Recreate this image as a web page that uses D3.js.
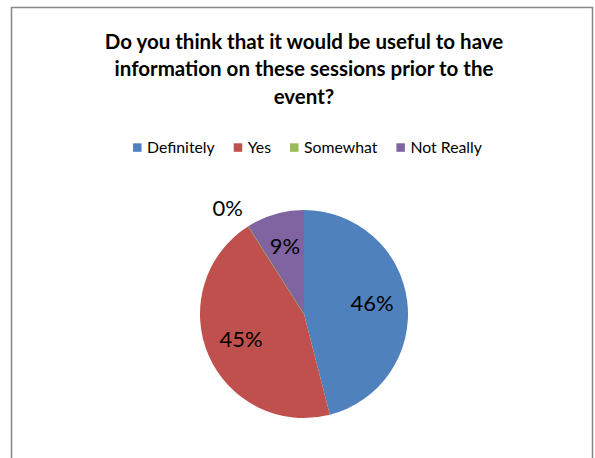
<!DOCTYPE html>
<html>
<head>
<meta charset="utf-8">
<script src="https://cdn.jsdelivr.net/npm/d3@7"></script>
<style>
  html, body { margin: 0; padding: 0; background: #fff; }
  svg { display: block; }
  text { font-family: Lato, "Open Sans", sans-serif; fill: #000; }
</style>
</head>
<body>
<svg id="chart" width="595" height="458"></svg>
<script>
// Survey answers and their shares (percent)
const categories = ["Definitely", "Yes", "Somewhat", "Not Really"];
const values = [46, 45, 0, 9];
const colors = ["#4f81bd", "#c0504d", "#9bbb59", "#8064a2"];
const titleLines = [
  "Do you think that it would be useful to have",
  "information on these sessions prior to the",
  "event?"
];

const svg = d3.select("#chart");

// Chart area frame
svg.append("rect")
  .attr("x", 11.5).attr("y", 7.5)
  .attr("width", 581).attr("height", 470)
  .attr("fill", "#fff")
  .attr("stroke", "#868686")
  .attr("stroke-width", 1.5);

// Title
svg.append("g").selectAll("text")
  .data(titleLines)
  .join("text")
  .attr("x", 304)
  .attr("y", (d, i) => 48.5 + i * 27.5)
  .attr("text-anchor", "middle")
  .attr("font-size", 20.5)
  .attr("font-weight", "bold")
  .text(d => d);

// Legend: swatch + label, laid out left to right and centred
const legendG = svg.append("g");
const items = legendG.selectAll("g")
  .data(categories)
  .join("g");
items.append("rect")
  .attr("x", 0).attr("y", -4.2)
  .attr("width", 8.5).attr("height", 8.5)
  .attr("fill", (d, i) => colors[i]);
items.append("text")
  .attr("x", 14).attr("y", 5.5)
  .attr("font-size", 15.8)
  .text(d => d);
let cursor = 0;
items.each(function () {
  const w = 14 + d3.select(this).select("text").node().getComputedTextLength();
  d3.select(this).attr("transform", `translate(${cursor},0)`);
  cursor += w + 19;
});
const legendWidth = cursor - 19;
legendG.attr("transform", `translate(${307.5 - legendWidth / 2},147.5)`);

// Pie
const cx = 304, cy = 314, r = 104;
const pie = d3.pie().sort(null).value(d => d.value);
const arcs = pie(categories.map((c, i) => ({ name: c, value: values[i], color: colors[i] })));
const arc = d3.arc().innerRadius(0).outerRadius(r);

const g = svg.append("g").attr("transform", `translate(${cx},${cy})`);
g.selectAll("path")
  .data(arcs)
  .join("path")
  .attr("d", arc)
  .attr("fill", d => d.data.color)
  .attr("stroke", d => d.data.value === 0 ? d.data.color : "none")
  .attr("stroke-width", 0.8);

// Percentage labels; an empty slice gets its label just outside the rim
const labelArc = d3.arc().innerRadius(r * 0.66).outerRadius(r * 0.66);
g.selectAll("text.pct")
  .data(arcs)
  .join("text")
  .attr("class", "pct")
  .attr("text-anchor", "middle")
  .attr("font-size", 22)
  .attr("transform", d => {
    if (d.data.value === 0) {
      const a = d.startAngle;
      return `translate(${Math.sin(a) * (r + 14) - 13},${-Math.cos(a) * (r + 14) + 2})`;
    }
    const [x, y] = labelArc.centroid(d);
    return `translate(${x},${y + 6})`;
  })
  .text(d => d.data.value + "%");
</script>
</body>
</html>
